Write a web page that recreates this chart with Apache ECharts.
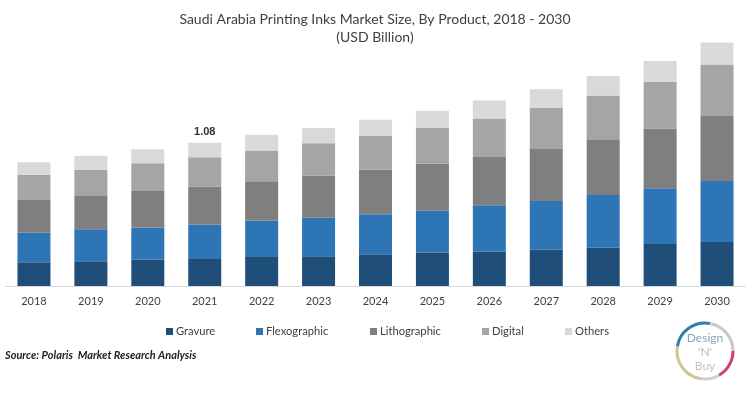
<!DOCTYPE html>
<html>
<head>
<meta charset="utf-8">
<script src="https://cdn.jsdelivr.net/npm/echarts@6/dist/echarts.min.js"></script>
<style>
html,body{margin:0;padding:0;background:#fff;}
#chart{width:750px;height:405px;}
</style>
</head>
<body>
<div id="chart"></div>
<script>
const categories = ['2018','2019','2020','2021','2022','2023','2024','2025','2026','2027','2028','2029','2030'];
const gravure      = [0.179,0.186,0.198,0.203,0.219,0.224,0.239,0.251,0.259,0.274,0.289,0.317,0.332];
const flexographic = [0.223,0.241,0.241,0.259,0.274,0.291,0.301,0.317,0.350,0.367,0.397,0.420,0.460];
const lithographic = [0.246,0.256,0.277,0.286,0.297,0.317,0.336,0.354,0.364,0.392,0.420,0.449,0.490];
const digital      = [0.191,0.193,0.209,0.222,0.231,0.244,0.256,0.271,0.289,0.309,0.329,0.354,0.387];
const others       = [0.093,0.106,0.106,0.110,0.118,0.115,0.121,0.128,0.136,0.141,0.148,0.156,0.166];
const seriesNames = ['Gravure','Flexographic','Lithographic','Digital','Others'];
const seriesColors = ['#1f4e79','#2e75b6','#7f7f7f','#a5a5a5','#d9d9d9'];
const labeledYear = '2021';

const chart = echarts.init(document.getElementById('chart'), null, {renderer:'canvas'});
const allData = [gravure, flexographic, lithographic, digital, others];
const li = categories.indexOf(labeledYear);
const total = allData.reduce((s,a)=>s+a[li],0);

const series = allData.map((arr, k) => ({
  name: seriesNames[k],
  type: 'bar',
  stack: 'total',
  barWidth: 33,
  itemStyle: {color: seriesColors[k]},
  data: arr.map((v, i) => {
    if (k === 4 && i === li) {
      return {value: v, label: {show: true, position: 'top', distance: 5, formatter: total.toFixed(2),
        color: '#333', fontSize: 11, fontWeight: 'bold', fontFamily: 'Liberation Sans'}};
    }
    return v;
  })
}));

const legendX = [161, 251, 365, 477, 560];
const legends = seriesNames.map((n, k) => ({
  data: [n], left: legendX[k], top: 321, itemWidth: 7, itemHeight: 7, itemGap: 0,
  icon: 'rect', selectedMode: false,
  textStyle: {color: '#404040', fontSize: 11.2, fontFamily: 'Lato', padding: [0, 0, 0, -2]}
}));

function arc(a0, a1, color) {
  return {type: 'arc', shape: {cx: 705, cy: 351, r: 28, startAngle: a0*Math.PI/180, endAngle: a1*Math.PI/180},
    style: {stroke: color, lineWidth: 3, fill: null}, silent: true};
}

chart.setOption({
  animation: false,
  title: {
    text: 'Saudi Arabia Printing Inks Market Size, By Product, 2018 - 2030\n(USD Billion)',
    left: 'center', top: 5,
    textStyle: {color: '#404040', fontSize: 14, fontWeight: 'normal', lineHeight: 18, fontFamily: 'Lato'}
  },
  legend: legends,
  grid: {left: 5.5, right: 4.5, top: 20.6, bottom: 119, containLabel: false},
  xAxis: {
    type: 'category', data: categories,
    axisLine: {lineStyle: {color: '#d9d9d9'}},
    axisTick: {show: false},
    axisLabel: {color: '#404040', fontSize: 11, margin: 10, fontFamily: 'Lato'}
  },
  yAxis: {type: 'value', min: 0, max: 2, show: false, splitLine: {show: false}},
  series: series,
  graphic: [
    {type: 'text', left: 5, top: 350, style: {text: 'Source: Polaris  Market Research Analysis', fill: '#222',
      fontFamily: 'Lato', fontSize: 11, fontWeight: 'bold', fontStyle: 'italic'}},
    arc(-80, 0, '#c8c8c8'),
    arc(0, 60, '#d23f6c'),
    arc(60, 100, '#cfcfcf'),
    arc(100, 190, '#cfc58e'),
    arc(190, 280, '#2f7fa6'),
    {type: 'text', x: 705, y: 338, style: {text: 'Design', fill: '#8aa3bb', fontFamily: 'Lato', fontSize: 12, align: 'center', verticalAlign: 'middle'}},
    {type: 'text', x: 705, y: 352, style: {text: "'N'", fill: '#b8b8b8', fontFamily: 'Lato', fontSize: 12, align: 'center', verticalAlign: 'middle'}},
    {type: 'text', x: 705, y: 366, style: {text: 'Buy', fill: '#c4c4c4', fontFamily: 'Lato', fontSize: 12, align: 'center', verticalAlign: 'middle'}}
  ]
});
</script>
</body>
</html>
